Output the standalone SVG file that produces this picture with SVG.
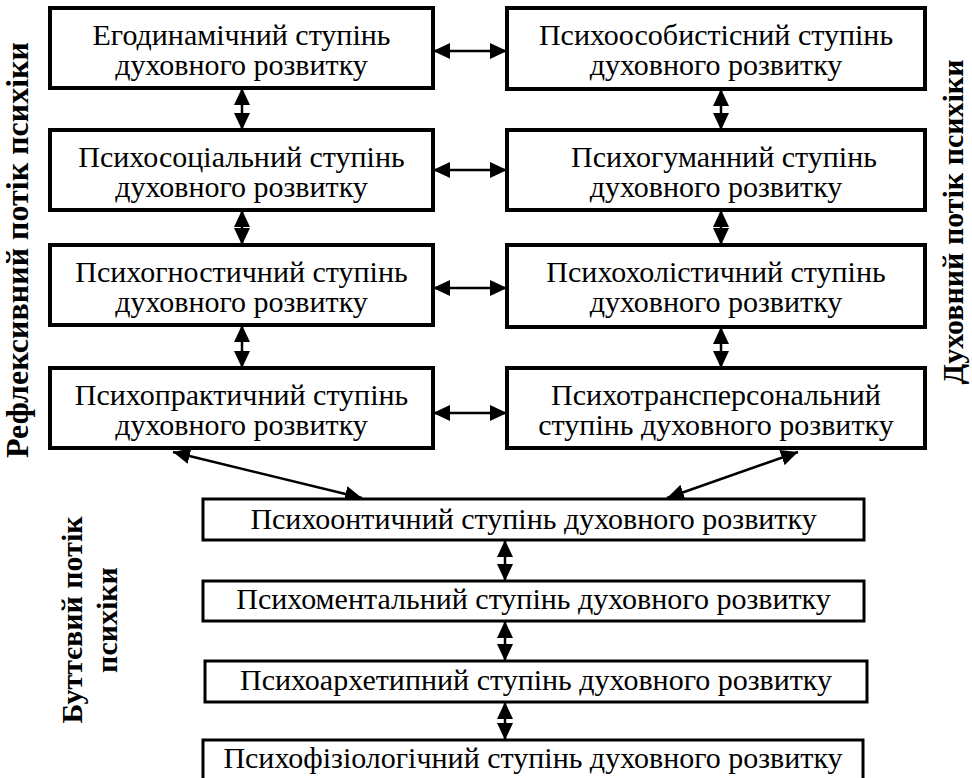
<svg xmlns="http://www.w3.org/2000/svg" width="972" height="778" viewBox="0 0 972 778">
<style>
.bx{fill:#fff;stroke:#000;stroke-width:4}
.bb{fill:#fff;stroke:#000;stroke-width:3}
.t{font-family:"Liberation Serif","Times New Roman",serif;font-size:30px;fill:#000;text-anchor:middle}
.lb{font-family:"Liberation Serif","Times New Roman",serif;font-size:30px;font-weight:bold;fill:#000;text-anchor:middle}
.c{stroke:#000;stroke-width:2.5;fill:none;marker-start:url(#ah);marker-end:url(#ah)}
</style>
<defs>
<marker id="ah" markerUnits="userSpaceOnUse" markerWidth="17" markerHeight="16" refX="17" refY="8" orient="auto-start-reverse" viewBox="0 0 17 16">
<path d="M0,0 L17,8 L0,16 z" fill="#000"/>
</marker>
</defs>
<rect width="972" height="778" fill="#fff"/>

<g id="label-left"><text class="lb" transform="translate(28,250) rotate(-90)" style="font-size:32px">Рефлексивний потік психіки</text></g>
<g id="label-right"><text class="lb" transform="translate(963,222) rotate(-90)">Духовний потік психіки</text></g>
<g id="label-bottom">
<text class="lb" transform="translate(82,620) rotate(-90)">Буттєвий потік</text>
<text class="lb" transform="translate(117,620) rotate(-90)">психіки</text>
</g>

<g id="connectors">
<line class="c" x1="433" y1="51" x2="507" y2="51"/>
<line class="c" x1="433" y1="170" x2="507" y2="170"/>
<line class="c" x1="433" y1="288" x2="507" y2="288"/>
<line class="c" x1="433" y1="413" x2="507" y2="413"/>
<line class="c" x1="242" y1="88" x2="242" y2="130"/>
<line class="c" x1="242" y1="210" x2="242" y2="245"/>
<line class="c" x1="242" y1="325" x2="242" y2="368"/>
<line class="c" x1="721" y1="89" x2="721" y2="130"/>
<line class="c" x1="721" y1="210" x2="721" y2="245"/>
<line class="c" x1="721" y1="327" x2="721" y2="368"/>
<line class="c" x1="173" y1="452" x2="362" y2="498"/>
<line class="c" x1="667" y1="498" x2="798" y2="452"/>
<line class="c" x1="505" y1="540" x2="505" y2="581"/>
<line class="c" x1="505" y1="621" x2="505" y2="661"/>
<line class="c" x1="505" y1="702" x2="505" y2="740"/>
</g>

<g id="n-egodynamic"><rect class="bx" x="50" y="8" width="383" height="80"/>
<text class="t" x="241.5" y="45">Егодинамічний ступінь</text><text class="t" x="241.5" y="75">духовного розвитку</text></g>
<g id="n-psychosocial"><rect class="bx" x="50" y="130" width="383" height="80"/>
<text class="t" x="241.5" y="167">Психосоціальний ступінь</text><text class="t" x="241.5" y="197">духовного розвитку</text></g>
<g id="n-psychognostic"><rect class="bx" x="50" y="245" width="383" height="80"/>
<text class="t" x="241.5" y="282">Психогностичний ступінь</text><text class="t" x="241.5" y="312">духовного розвитку</text></g>
<g id="n-psychopractical"><rect class="bx" x="50" y="368" width="383" height="80"/>
<text class="t" x="241.5" y="405">Психопрактичний ступінь</text><text class="t" x="241.5" y="435">духовного розвитку</text></g>

<g id="n-psychopersonal"><rect class="bx" x="507" y="8" width="418" height="81"/>
<text class="t" x="716" y="45">Психоособистісний ступінь</text><text class="t" x="716" y="75">духовного розвитку</text></g>
<g id="n-psychohumane"><rect class="bx" x="507" y="130" width="418" height="80"/>
<text class="t" x="724" y="167">Психогуманний ступінь</text><text class="t" x="716" y="197">духовного розвитку</text></g>
<g id="n-psychoholistic"><rect class="bx" x="507" y="245" width="418" height="82"/>
<text class="t" x="716" y="282">Психохолістичний ступінь</text><text class="t" x="716" y="312">духовного розвитку</text></g>
<g id="n-psychotranspersonal"><rect class="bx" x="507" y="368" width="418" height="80"/>
<text class="t" x="716" y="405">Психотрансперсональний</text><text class="t" x="716" y="435">ступінь духовного розвитку</text></g>

<g id="n-psychoontic"><rect class="bb" x="203" y="499" width="661" height="41"/>
<text class="t" x="533.5" y="529">Психоонтичний ступінь духовного розвитку</text></g>
<g id="n-psychomental"><rect class="bb" x="203" y="581" width="661" height="40"/>
<text class="t" x="533.5" y="609">Психоментальний ступінь духовного розвитку</text></g>
<g id="n-psychoarchetypal"><rect class="bb" x="205" y="661" width="662" height="41"/>
<text class="t" x="536" y="690">Психоархетипний ступінь духовного розвитку</text></g>
<g id="n-psychophysiological"><rect class="bb" x="203" y="740" width="660" height="50"/>
<text class="t" x="533" y="768">Психофізіологічний ступінь духовного розвитку</text></g>
</svg>
